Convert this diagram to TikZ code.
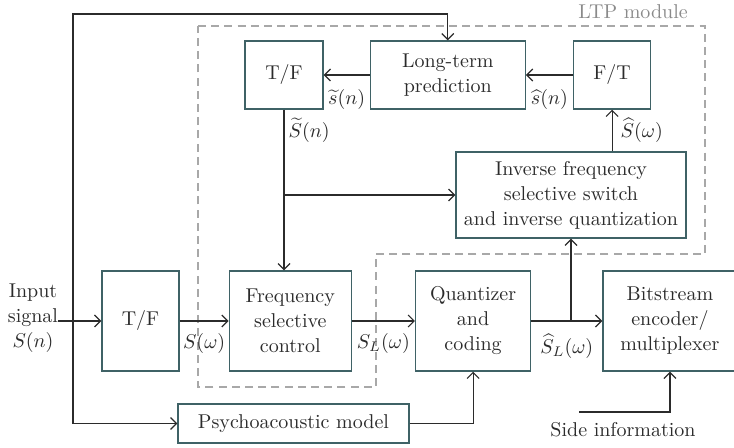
\documentclass[tikz,border=0pt]{standalone}
\usepackage{xcolor}
\usepackage{tikz}
\usetikzlibrary{arrows.meta, positioning}
\definecolor{BoxTeal}{HTML}{3F6266}
\definecolor{LineDark}{HTML}{2B2B2B}
\definecolor{DashGray}{HTML}{A8A8A8}
\definecolor{LabelGray}{HTML}{8A8A8A}

\begin{document}
\begin{tikzpicture}[
    x=0.5pt, y=-0.5pt,
    font=\fontsize{10}{12.5}\selectfont,
    block/.style={draw=BoxTeal, line width=0.65pt, text=LineDark, align=center, inner sep=2pt},
    rowbox/.style={block, minimum height=50pt},
    topbox/.style={block, minimum height=34pt},
    arrow/.style={-{Straight Barb[length=3pt, width=6pt]}, line width=0.6pt, color=LineDark},
    sig/.style={text=LineDark, inner sep=1pt},
    ltpbox/.style={draw=DashGray, line width=0.6pt, dash pattern=on 4pt off 2.6pt}
]
    \useasboundingbox (0,0) rectangle (734,448);

    \draw[ltpbox] (198,26) -- (705,26) -- (705,254) -- (376,254) -- (376,387) -- (198,387) -- cycle;
    \node[text=LabelGray] (ltplabel) at (633,12) {LTP module};

    \node[rowbox, minimum width=38.5pt] (tfin) at (140.5,321) {T/F};
    \node[rowbox, minimum width=61pt, right=24.5pt of tfin] (fsc) {Frequency\\selective\\control};
    \node[rowbox, minimum width=57.5pt, right=31.5pt of fsc] (quant) {Quantizer\\and\\coding};
    \node[rowbox, minimum width=67pt, right=35.5pt of quant] (bits) {Bitstream\\encoder/\\multiplexer};
    \node[block, minimum width=115.5pt, minimum height=19.5pt] (psycho) at (293.5,423.5) {Psychoacoustic model};

    \node[topbox, minimum width=39pt] (tfout) at (284,75) {T/F};
    \node[topbox, minimum width=77.5pt, right=23pt of tfout] (ltp) {Long-term\\prediction};
    \node[topbox, minimum width=38.5pt, right=23.5pt of ltp] (ft) {F/T};
    \node[block, minimum width=115pt, minimum height=43pt] (inv) at (571,195) {Inverse frequency\\selective switch\\and inverse quantization};

    \node[sig, align=center, inner sep=0pt] (input) at (33,318) {Input\\signal\\$S(n)$};
    \node[sig] (side) at (623,430) {Side information};
    \coordinate (split) at (73,321);
    \coordinate (topturn) at (73,14);
    \coordinate (sidein) at (579,412);

    \draw[arrow] (input.east |- tfin.west) -- (tfin.west);
    \draw[arrow] (split) -- (topturn) -| (ltp.north);
    \draw[arrow] (split) |- (psycho.west);
    \draw[arrow] (tfin) -- node[sig, below=5pt] {$S(\omega)$} (fsc);
    \draw[arrow] (fsc) -- node[sig, below=5pt] {$S_L(\omega)$} (quant);
    \draw[arrow] (quant) -- node[sig, below=5pt] {$\widehat{S}_L(\omega)$} (bits);
    \draw[arrow] (psycho.east) -| (quant.south);
    \draw[arrow] (sidein) -| (bits.south);
    \draw[arrow] (inv.south |- quant.east) -- (inv.south);
    \draw[arrow] (ltp) -- node[sig, below=6pt] {$\widetilde{s}(n)$} (tfout);
    \draw[arrow] (ft) -- node[sig, below=6pt] {$\widehat{s}(n)$} (ltp);
    \draw[arrow] (inv.north -| ft.south) -- node[sig, right=3pt] {$\widehat{S}(\omega)$} (ft.south);
    \draw[arrow] (tfout.south) -- node[sig, pos=0.13, right=1pt] {$\widetilde{S}(n)$} (tfout.south |- fsc.north);
    \draw[arrow] (tfout.south |- inv.west) -- (inv.west);
\end{tikzpicture}
\end{document}
